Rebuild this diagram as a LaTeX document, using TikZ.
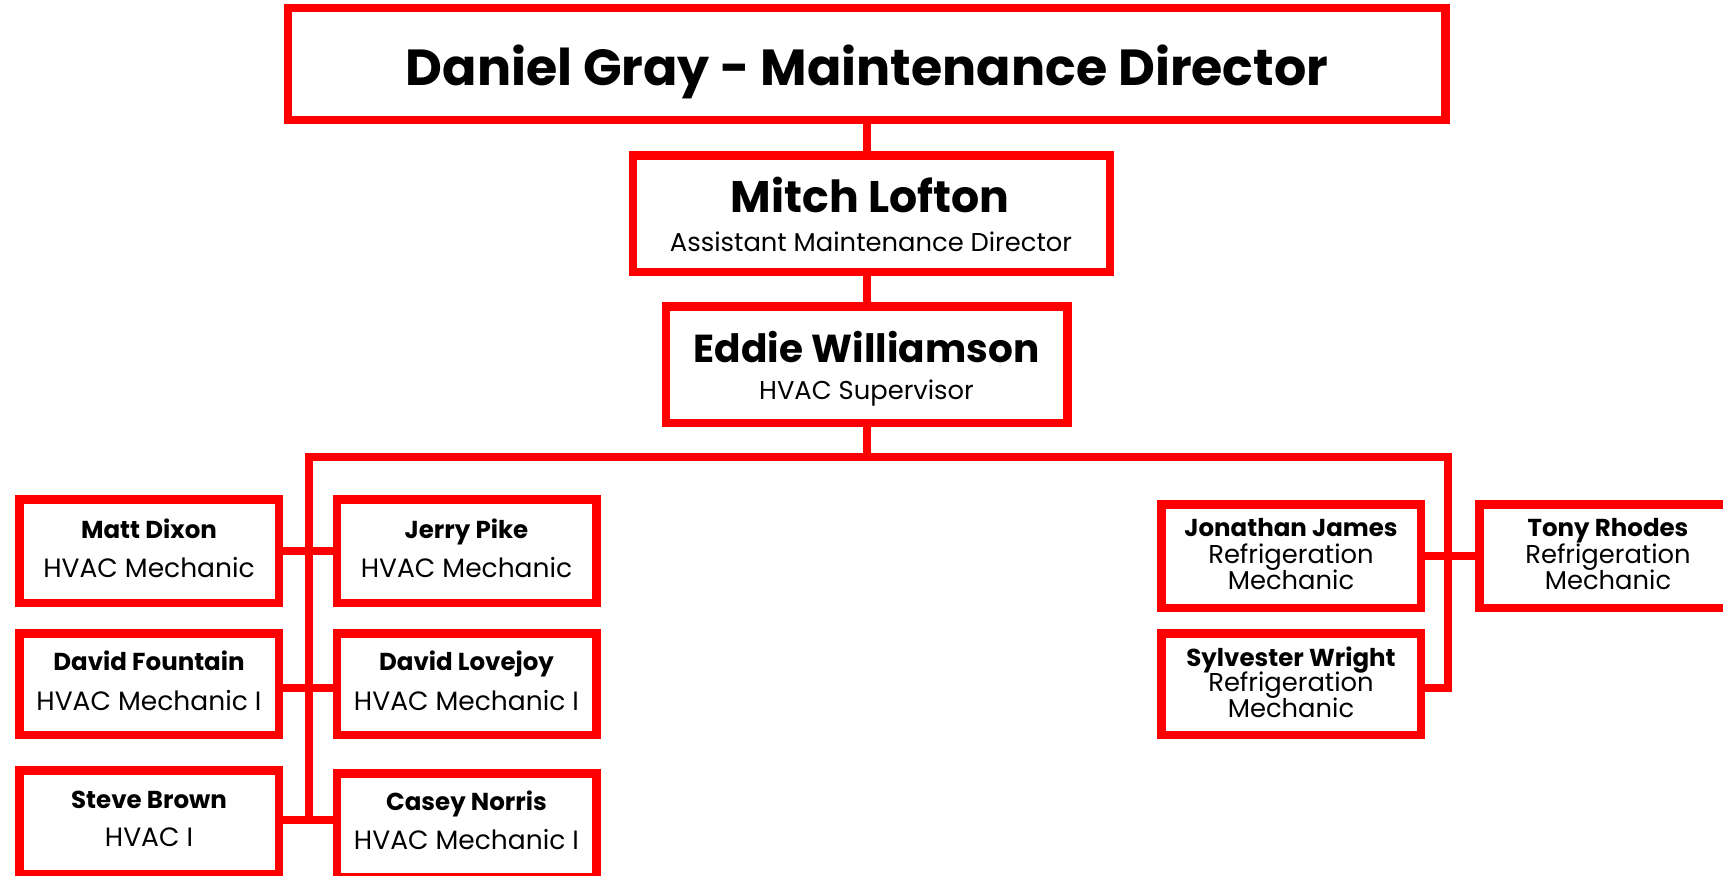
\documentclass[tikz,border=0pt]{standalone}
\usepackage{fontspec}
\setmainfont{Poppins}
\begin{document}
\begin{tikzpicture}[x=1pt,y=-1pt,
  box/.style={draw=red, line width=8.5pt, fill=white, inner sep=0pt, minimum width=259.5pt, minimum height=103.5pt},
  conn/.style={draw=red, line width=8pt},
  nm/.style={font=\bfseries\fontsize{24.5}{24.5}\selectfont, anchor=base, inner sep=0pt},
  role/.style={font=\fontsize{26.5}{26.5}\selectfont, anchor=base, inner sep=0pt},
  refr/.style={font=\fontsize{25.8}{25.8}\selectfont, anchor=base, inner sep=0pt}]
\useasboundingbox (0,0) rectangle (1723,875);
% boxes
\node[box, minimum width=1157.5pt, minimum height=111.5pt] (dir) at (866.5,64) {};
\node[box, minimum width=477pt, minimum height=116.5pt] (mitch) at (871.5,213.5) {};
\node[box, minimum width=401.5pt, minimum height=116.5pt] (eddie) at (866.5,364.5) {};
\node[box] (matt) at (149,551) {};
\node[box] (jerry) at (466.5,551) {};
\node[box, minimum height=101.5pt] (fountain) at (149,684) {};
\node[box, minimum height=101.5pt] (lovejoy) at (466.5,684) {};
\node[box] (steve) at (149,822) {};
\node[box] (casey) at (466.5,825) {};
\node[box] (jonathan) at (1291,556) {};
\node[box, minimum height=101.5pt] (sylvester) at (1291,684) {};
\node[box] (tony) at (1609,556) {};
% connectors
\coordinate (busL) at (308.5,456.5);
\coordinate (busR) at (1448,456.5);
\coordinate (lbot) at (308.5,820);
\coordinate (rbot) at (1448,688);
\draw[conn] (dir.south) -- (dir.south |- mitch.north);
\draw[conn] (eddie.north) -- (eddie.north |- mitch.south);
\draw[conn] (eddie.south) -- (eddie.south |- busL);
\draw[conn] (lbot) -- (busL) -- (busR) -- (rbot) -- (rbot -| sylvester.east);
\draw[conn] (matt.east) -- (jerry.west);
\draw[conn] ([yshift=-4pt]fountain.east) -- ([yshift=-4pt]lovejoy.west);
\draw[conn] ([yshift=2pt]steve.east) -- ([yshift=2pt]steve.east -| casey.west);
\draw[conn] (jonathan.east) -- (tony.west);
% texts
\node[nm, font=\bfseries\fontsize{50.7}{50.7}\selectfont] (t0) at (867,85) {Daniel Gray - Maintenance Director};
\node[nm, font=\bfseries\fontsize{44.2}{44.2}\selectfont] (t1) at (870,212.7) {Mitch Lofton};
\node[refr] (t1r) at (871,251.7) {Assistant Maintenance Director};
\node[nm, font=\bfseries\fontsize{39}{39}\selectfont] (t2) at (866.5,362.7) {Eddie Williamson};
\node[refr] (t2r) at (866.5,399.3) {HVAC Supervisor};
\node[nm] (t3) at (149,538) {Matt Dixon};
\node[role] (t3r) at (149,577.7) {HVAC Mechanic};
\node[nm] (t4) at (466.5,538) {Jerry Pike};
\node[role] (t4r) at (466.5,577.7) {HVAC Mechanic};
\node[nm] (t5) at (149,670) {David Fountain};
\node[role] (t5r) at (149,710) {HVAC Mechanic I};
\node[nm] (t6) at (466.5,670) {David Lovejoy};
\node[role] (t6r) at (466.5,710) {HVAC Mechanic I};
\node[nm] (t7) at (149,808.3) {Steve Brown};
\node[role] (t7r) at (149,846.7) {HVAC I};
\node[nm] (t8) at (466.5,810.7) {Casey Norris};
\node[role] (t8r) at (466.5,849.3) {HVAC Mechanic I};
\node[nm] (t9) at (1291,536.7) {Jonathan James};
\node[refr] (t9a) at (1291,563.3) {Refrigeration};
\node[refr] (t9b) at (1291,589.3) {Mechanic};
\node[nm] (t10) at (1291,666.7) {Sylvester Wright};
\node[refr] (t10a) at (1291,691.7) {Refrigeration};
\node[refr] (t10b) at (1291,717.7) {Mechanic};
\node[nm] (t11) at (1608,536.7) {Tony Rhodes};
\node[refr] (t11a) at (1608,563.3) {Refrigeration};
\node[refr] (t11b) at (1608,589.3) {Mechanic};
\end{tikzpicture}
\end{document}
